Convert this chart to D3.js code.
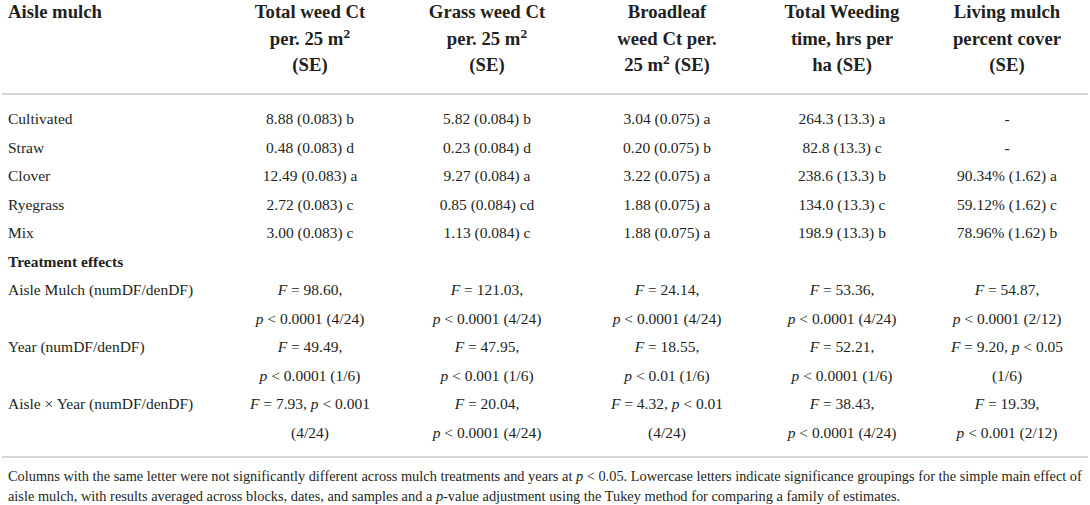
<!DOCTYPE html>
<html>
<head>
<meta charset="utf-8">
<script src="https://cdn.jsdelivr.net/npm/d3@7"></script>
<style>
  body { margin: 0; background: #fff; }
  text { font-family: "Liberation Serif", "DejaVu Serif", serif; fill: #231f20; white-space: pre; }
</style>
</head>
<body>
<div id="container"></div>
<script>
// global sizes
let w = 1090;
let h = 505;
let leftPad = 8;
let bodySize = 15.5;
let headSize = 18.7;

// ---- the data ----
let mulches = ["Cultivated", "Straw", "Clover", "Ryegrass", "Mix"];

let totalWeed = [8.88, 0.48, 12.49, 2.72, 3.00];
let totalWeedSE = [0.083, 0.083, 0.083, 0.083, 0.083];
let totalWeedGroup = ["b", "d", "a", "c", "c"];

let grassWeed = [5.82, 0.23, 9.27, 0.85, 1.13];
let grassWeedSE = [0.084, 0.084, 0.084, 0.084, 0.084];
let grassWeedGroup = ["b", "d", "a", "cd", "c"];

let broadleafWeed = [3.04, 0.20, 3.22, 1.88, 1.88];
let broadleafWeedSE = [0.075, 0.075, 0.075, 0.075, 0.075];
let broadleafWeedGroup = ["a", "b", "a", "a", "a"];

let weedingTime = [264.3, 82.8, 238.6, 134.0, 198.9];
let weedingTimeSE = [13.3, 13.3, 13.3, 13.3, 13.3];
let weedingTimeGroup = ["a", "c", "b", "c", "b"];

// no living mulch in cultivated and straw aisles
let livingCover = [null, null, 90.34, 59.12, 78.96];
let livingCoverSE = [null, null, 1.62, 1.62, 1.62];
let livingCoverGroup = [null, null, "a", "c", "b"];

// column headers, one array per column (^2 = superscript)
let columnKeys = ["total", "grass", "broadleaf", "time", "cover"];
let headerLines = [
  ["Total weed Ct", "per. 25 m^2", "(SE)"],
  ["Grass weed Ct", "per. 25 m^2", "(SE)"],
  ["Broadleaf", "weed Ct per.", "25 m^2 (SE)"],
  ["Total Weeding", "time, hrs per", "ha (SE)"],
  ["Living mulch", "percent cover", "(SE)"]
];

// treatment effects, two printed lines per cell
let effects = ["Aisle Mulch (numDF/denDF)", "Year (numDF/denDF)", "Aisle \u00d7 Year (numDF/denDF)"];
let aisleEffect = [
  ["F = 98.60,", "p < 0.0001 (4/24)"],
  ["F = 121.03,", "p < 0.0001 (4/24)"],
  ["F = 24.14,", "p < 0.0001 (4/24)"],
  ["F = 53.36,", "p < 0.0001 (4/24)"],
  ["F = 54.87,", "p < 0.0001 (2/12)"]
];
let yearEffect = [
  ["F = 49.49,", "p < 0.0001 (1/6)"],
  ["F = 47.95,", "p < 0.001 (1/6)"],
  ["F = 18.55,", "p < 0.01 (1/6)"],
  ["F = 52.21,", "p < 0.0001 (1/6)"],
  ["F = 9.20, p < 0.05", "(1/6)"]
];
let aisleYearEffect = [
  ["F = 7.93, p < 0.001", "(4/24)"],
  ["F = 20.04,", "p < 0.0001 (4/24)"],
  ["F = 4.32, p < 0.01", "(4/24)"],
  ["F = 38.43,", "p < 0.0001 (4/24)"],
  ["F = 19.39,", "p < 0.001 (2/12)"]
];

let footnoteLines = [
  "Columns with the same letter were not significantly different across mulch treatments and years at p < 0.05. Lowercase letters indicate significance groupings for the simple main effect of",
  "aisle mulch, with results averaged across blocks, dates, and samples and a p-value adjustment using the Tukey method for comparing a family of estimates."
];

// ---- build the cell texts from the arrays ----
function cell(v, se, g, fv, fse){
  if(v === null) return "-";
  return fv(v) + " (" + fse(se) + ") " + g;
}
let f2 = d3.format(".2f"), f1 = d3.format(".1f"), f3 = d3.format(".3f");
let pct = function(v){ return f2(v) + "%"; };

let mulchCells = mulches.map(function(m, i){
  return [
    cell(totalWeed[i], totalWeedSE[i], totalWeedGroup[i], f2, f3),
    cell(grassWeed[i], grassWeedSE[i], grassWeedGroup[i], f2, f3),
    cell(broadleafWeed[i], broadleafWeedSE[i], broadleafWeedGroup[i], f2, f3),
    cell(weedingTime[i], weedingTimeSE[i], weedingTimeGroup[i], f1, f1),
    cell(livingCover[i], livingCoverSE[i], livingCoverGroup[i], pct, f2)
  ];
});

// every printed row of the body: label + 5 cells
let bodyRows = [];
mulches.forEach(function(m, i){
  bodyRows.push({label: m, cells: mulchCells[i]});
});
bodyRows.push({label: "Treatment effects", bold: true, cells: []});
[aisleEffect, yearEffect, aisleYearEffect].forEach(function(eff, k){
  bodyRows.push({label: effects[k], cells: eff.map(function(c){ return c[0]; })});
  bodyRows.push({label: "", cells: eff.map(function(c){ return c[1]; })});
});

// ---- scales ----
let yScale = d3.scaleLinear().domain([0, bodyRows.length - 1]).range([124, 438]);
let headerY = d3.scaleLinear().domain([0, 2]).range([18, 71]);
let xScale = d3.scaleOrdinal().domain(columnKeys).range([310, 487, 667, 842, 1007]);

// ---- svg ----
let viz = d3.select("#container")
  .append("svg")
    .attr("width", w)
    .attr("height", h)
;

// writes a string into a text element, italic F / p and superscripts
function richText(textSel, str){
  let parts = str.split(/(\bF\b(?= =)|\bp\b(?= <|-)|\^2)/);
  let lifted = false;
  parts.forEach(function(part){
    if(part === "") return;
    let t = textSel.append("tspan");
    if(lifted){ t.attr("dy", 7); lifted = false; }
    if(part === "^2"){
      t.attr("dy", -7).attr("font-size", "0.72em").text("2");
      lifted = true;
    } else if(part === "F" || part === "p"){
      t.attr("font-style", "italic").text(part);
    } else {
      t.text(part);
    }
  });
}

// header
let headGroup = viz.append("g").classed("header", true);
headGroup.append("text")
  .attr("x", leftPad)
  .attr("y", headerY(0))
  .attr("font-size", headSize)
  .attr("font-weight", "bold")
  .text("Aisle mulch")
;
headerLines.forEach(function(lines, c){
  lines.forEach(function(line, j){
    let t = headGroup.append("text")
      .attr("x", xScale(columnKeys[c]))
      .attr("y", headerY(j))
      .attr("text-anchor", "middle")
      .attr("font-size", headSize)
      .attr("font-weight", "bold");
    richText(t, line);
  });
});

// rules
viz.selectAll(".rule")
  .data([94, 457])
  .enter()
  .append("line")
    .classed("rule", true)
    .attr("x1", 2)
    .attr("x2", w - 2)
    .attr("y1", function(d){ return d; })
    .attr("y2", function(d){ return d; })
    .attr("stroke", "#c8c8c8")
    .attr("stroke-width", 1.5)
;

// body rows
let rowGroups = viz.selectAll(".row")
  .data(bodyRows)
  .enter()
  .append("g")
    .classed("row", true)
    .attr("transform", function(d, i){
      return "translate(0," + yScale(i) + ")";
    })
;
rowGroups.append("text")
  .attr("x", leftPad)
  .attr("font-size", bodySize)
  .attr("font-weight", function(d){ return d.bold ? "bold" : "normal"; })
  .text(function(d){ return d.label; })
;
rowGroups.each(function(d){
  let g = d3.select(this);
  d.cells.forEach(function(c, k){
    let t = g.append("text")
      .attr("x", xScale(columnKeys[k]))
      .attr("text-anchor", "middle")
      .attr("font-size", bodySize);
    richText(t, c);
  });
});

// footnote, size tuned so the first line spans the table width
let noteGroup = viz.append("g").classed("note", true);
let probe = noteGroup.append("text").attr("font-size", 13);
richText(probe, footnoteLines[0]);
let noteSize = 13 * (w - 2 * leftPad + 1) / probe.node().getComputedTextLength();
probe.remove();
footnoteLines.forEach(function(line, j){
  let t = noteGroup.append("text")
    .attr("x", leftPad)
    .attr("y", 481 + j * 19.5)
    .attr("font-size", noteSize);
  richText(t, line);
});
</script>
</body>
</html>
